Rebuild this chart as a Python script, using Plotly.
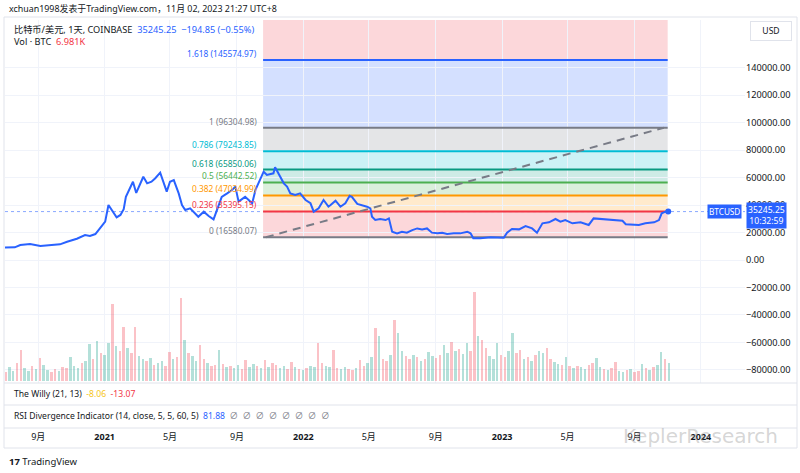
import plotly.graph_objects as go
import pandas as pd

# BTC/USD (COINBASE, 1D) close
price_dates = [
    "2020-06-26", "2020-07-05", "2020-07-20", "2020-07-30", "2020-08-17", "2020-09-05", "2020-09-28",
    "2020-10-11", "2020-10-24", "2020-11-11", "2020-11-26", "2020-12-05", "2020-12-15", "2020-12-24",
    "2021-01-02", "2021-01-08", "2021-01-14", "2021-01-23", "2021-01-30", "2021-02-05", "2021-02-09",
    "2021-02-22", "2021-02-28", "2021-03-13", "2021-03-20", "2021-03-28", "2021-04-04", "2021-04-13",
    "2021-04-25", "2021-05-01", "2021-05-08", "2021-05-17", "2021-05-23", "2021-05-29", "2021-06-07",
    "2021-06-16", "2021-06-22", "2021-07-02", "2021-07-11", "2021-07-20", "2021-07-26", "2021-08-04",
    "2021-08-14", "2021-08-23", "2021-08-29", "2021-09-04", "2021-09-16", "2021-09-29", "2021-10-05",
    "2021-10-14", "2021-10-20", "2021-10-26", "2021-11-07", "2021-11-10", "2021-11-20", "2021-11-26",
    "2021-12-02", "2021-12-08", "2021-12-17", "2021-12-26", "2022-01-05", "2022-01-14", "2022-01-20",
    "2022-01-29", "2022-02-07", "2022-02-16", "2022-02-20", "2022-03-01", "2022-03-10", "2022-03-19",
    "2022-03-27", "2022-03-31", "2022-04-10", "2022-04-19", "2022-04-28", "2022-05-04", "2022-05-07",
    "2022-05-13", "2022-05-22", "2022-06-01", "2022-06-07", "2022-06-13", "2022-06-22", "2022-07-01",
    "2022-07-10", "2022-07-20", "2022-07-29", "2022-08-07", "2022-08-16", "2022-08-25", "2022-09-04",
    "2022-09-13", "2022-09-22", "2022-10-04", "2022-10-16", "2022-10-29", "2022-11-04", "2022-11-09",
    "2022-11-22", "2022-12-11", "2022-12-26", "2023-01-04", "2023-01-10", "2023-01-19", "2023-02-01",
    "2023-02-13", "2023-02-25", "2023-03-06", "2023-03-16", "2023-03-28", "2023-04-09", "2023-04-18",
    "2023-04-27", "2023-05-10", "2023-05-25", "2023-06-09", "2023-06-18", "2023-07-04", "2023-07-22",
    "2023-08-10", "2023-08-16", "2023-08-28", "2023-09-09", "2023-09-21", "2023-10-07", "2023-10-16",
    "2023-10-21", "2023-10-28", "2023-11-02",
]
price_values = [
    9000, 9050, 9250, 10900, 11650, 10200, 10700,
    11400, 13300, 15500, 18200, 17500, 18900, 23000,
    27900, 40000, 36400, 31000, 32800, 37000, 46000,
    57000, 48800, 60600, 55800, 57000, 59500, 63600,
    49800, 57000, 58200, 48500, 40000, 36400, 37600,
    34000, 31500, 35200, 32000, 29600, 36400, 46000,
    48500, 51000, 53400, 42500, 46000, 41300, 51000,
    59500, 64300, 61900, 63100, 67500, 59500, 55800,
    53400, 48500, 47300, 48500, 43700, 41300, 35200,
    37600, 43700, 38800, 40000, 43200, 38800, 41300,
    46800, 46000, 40800, 40000, 38800, 37600, 31500,
    29100, 29850, 29100, 30300, 20600, 19400, 20600,
    19900, 21800, 23000, 22300, 23000, 19900, 19400,
    19900, 18900, 19400, 19400, 20600, 19400, 15800,
    15800, 16500, 16200, 16200, 19900, 22600, 22300,
    24750, 23000, 19900, 26700, 27400, 29850, 27900,
    29100, 26700, 27400, 25500, 30300, 29850, 29100,
    28600, 26000, 26000, 25500, 26700, 27400, 29100,
    34000, 35200, 35245.25,
]
last_price = 35245.25

# volume (K BTC), one bar per week starting vol_start; u = up week, d = down week
vol_start = "2020-06-26"
volume_k = [
    12, 9, 14, 10, 18, 31, 13, 10, 15, 12,
    23, 16, 11, 9, 12, 10, 14, 13, 24, 15,
    13, 18, 20, 37, 22, 40, 28, 26, 38, 77,
    35, 30, 54, 33, 28, 54, 25, 22, 20, 23,
    16, 18, 20, 15, 29, 22, 24, 83, 41, 28,
    25, 20, 36, 22, 18, 15, 16, 31, 17, 14,
    15, 13, 16, 12, 21, 14, 17, 15, 13, 21,
    14, 18, 16, 13, 15, 12, 19, 14, 12, 11,
    13, 15, 14, 38, 18, 15, 14, 31, 13, 12,
    14, 12, 11, 13, 21, 15, 18, 24, 53, 45,
    22, 20, 26, 61, 48, 30, 25, 22, 26, 24,
    20, 22, 29, 25, 23, 26, 36, 28, 39, 30,
    32, 27, 38, 30, 89, 45, 41, 33, 25, 22,
    38, 26, 24, 30, 48, 28, 31, 22, 24, 20,
    26, 30, 28, 33, 22, 19, 17, 16, 24, 15,
    13, 15, 14, 12, 16, 18, 23, 14, 12, 11,
    13, 19, 10, 9, 11, 12, 9, 10, 17, 13,
    11, 14, 16, 29, 22, 18,
]
vol_dir = ("uduudduudu" "duuddudduu" "uduududuud" "uddudduudu" "duudduddud"
           "uudduddudu" "duudduudud" "udduuddudu" "duudduuddu" "uddudduudu"
           "dduduuddud" "uduudduudu" "duuddudduu" "udduuddudu" "duudduudud"
           "uduudduudu" "dduududdud" "uduudu")

# fib retracement levels
fib_ratios = ["0", "0.236", "0.382", "0.5", "0.618", "0.786", "1", "1.618", "2.618"]
fib_values = [16580.07, 35395.15, 47034.99, 56442.52, 65850.06, 79243.85, 96304.98, 145574.97, 225299.86]
fib_colors = ["#787b86", "#f23645", "#ff9800", "#4caf50", "#089981", "#00bcd4", "#787b86", "#2962ff", "#f23645"]
fib_start, fib_end = "2021-10-19", "2023-11-01"
trend_x = ["2021-10-24", "2023-10-25"]
trend_y = [16580.07, 96304.98]

x_ticks = ["2020-09-01", "2021-01-01", "2021-05-01", "2021-09-01", "2022-01-01", "2022-05-01",
           "2022-09-01", "2023-01-01", "2023-05-01", "2023-09-01", "2024-01-01"]
x_ticktext = ["9月", "<b>2021</b>", "5月", "9月", "<b>2022</b>", "5月",
              "9月", "<b>2023</b>", "5月", "9月", "<b>2024</b>"]
y_ticks = [-80000, -60000, -40000, -20000, 0, 20000, 40000, 60000, 80000, 100000, 120000, 140000]

FONT = "Noto Sans, Noto Sans CJK SC, sans-serif"
TXT = "#131722"
BLUE = "#2962ff"
RED = "#f23645"

# plot area in pixels (800x473 page)
L, R, T, B = 5, 745, 20, 383


def px(x):
    return (x - L) / (R - L)


def py(y):
    return (B - y) / (B - T)


def rgba(hex_color, a):
    h = hex_color.lstrip("#")
    return "rgba(%d,%d,%d,%s)" % (int(h[0:2], 16), int(h[2:4], 16), int(h[4:6], 16), a)


fig = go.Figure()

# volume
vol_dates = pd.date_range(vol_start, periods=len(volume_k), freq="7D")
fig.add_trace(go.Bar(
    x=vol_dates, y=volume_k, yaxis="y2",
    marker=dict(color=[rgba("#089981", 0.3) if d == "u" else rgba(RED, 0.3) for d in vol_dir],
                line=dict(width=0)),
    width=4.5 * 86400000,
))

# price
fig.add_trace(go.Scatter(
    x=price_dates, y=price_values, mode="lines",
    line=dict(color=BLUE, width=2),
))
fig.add_trace(go.Scatter(
    x=[price_dates[-1]], y=[price_values[-1]], mode="markers",
    marker=dict(color=BLUE, size=6),
))

# fib zones + lines + labels
for i in range(1, len(fib_values)):
    fig.add_shape(type="rect", xref="x", yref="y", x0=fib_start, x1=fib_end,
                  y0=fib_values[i - 1], y1=fib_values[i],
                  fillcolor=rgba(fib_colors[i], 0.2), line_width=0, layer="below")
for r, v, c in zip(fib_ratios[:-1], fib_values[:-1], fib_colors[:-1]):
    fig.add_shape(type="line", xref="x", yref="y", x0=fib_start, x1=fib_end, y0=v, y1=v,
                  line=dict(color=c, width=2), layer="between")
    fig.add_annotation(x=fib_start, y=v, xref="x", yref="y", text="%s (%.2f)" % (r, v),
                       showarrow=False, xanchor="right", yanchor="bottom", xshift=-4, yshift=-1,
                       font=dict(size=8.4, color=c, family=FONT))

# trend line
fig.add_shape(type="line", xref="x", yref="y", x0=trend_x[0], x1=trend_x[1], y0=trend_y[0], y1=trend_y[1],
              line=dict(color="#787b86", width=2, dash="8px,6px"), layer="between")

# last price dotted line
fig.add_shape(type="line", xref="paper", yref="y", x0=0, x1=1, y0=last_price, y1=last_price,
              line=dict(color="rgba(41,98,255,0.55)", width=1, dash="dot"), layer="between")

# frame and pane separators
frame = dict(color="#e0e3eb", width=1)
fig.add_shape(type="rect", xref="paper", yref="paper", x0=px(4), x1=px(797), y0=py(17), y1=py(448), line=frame)
for yy in (405, 428):
    fig.add_shape(type="line", xref="paper", yref="paper", x0=px(4), x1=px(797), y0=py(yy), y1=py(yy), line=frame)
fig.add_shape(type="line", xref="paper", yref="paper", x0=px(4), x1=px(797), y0=0, y1=0, line=frame)

ann = []
ann.append(dict(x=px(7), y=py(8), text="xchuan1998发表于TradingView.com，11月 02, 2023 21:27 UTC+8",
                font=dict(size=8.9, color=TXT)))
ann.append(dict(x=px(12), y=py(30),
                text="比特币/美元, 1天, COINBASE  <span style='color:%s'>35245.25  −194.85 (−0.55%%)</span>" % BLUE,
                font=dict(size=9.2, color=TXT)))
ann.append(dict(x=px(12), y=py(42), text="Vol · BTC  <span style='color:%s'>6.981K</span>" % RED,
                font=dict(size=9.2, color=TXT)))
ann.append(dict(x=px(12), y=py(394),
                text="The Willy (21, 13)  <span style='color:#f5c518'>-8.06</span>  <span style='color:%s'>-13.07</span>" % RED,
                font=dict(size=8.6, color=TXT)))
ann.append(dict(x=px(12), y=py(416),
                text="RSI Divergence Indicator (14, close, 5, 5, 60, 5)  <span style='color:%s'>81.88</span>  "
                     "<span style='color:#787b86'>∅  ∅  ∅  ∅  ∅  ∅  ∅  ∅</span>" % BLUE,
                font=dict(size=8.6, color=TXT)))
ann.append(dict(x=px(7), y=py(461), text="<b>17</b> TradingView", font=dict(size=9.5, color=TXT)))
for a in ann:
    fig.add_annotation(xref="paper", yref="paper", showarrow=False, xanchor="left", yanchor="middle",
                       font_family=FONT, **a)

# watermark
fig.add_annotation(xref="paper", yref="paper", x=px(700), y=py(436), text="KeplerResearch",
                   showarrow=False, xanchor="center", yanchor="middle",
                   font=dict(size=20, color="rgba(150,150,150,0.4)", family="DejaVu Sans"))

# right scale boxes
fig.add_annotation(xref="paper", yref="paper", x=px(771), y=py(31), text="USD", showarrow=False,
                   xanchor="center", yanchor="middle",
                   bgcolor="white", bordercolor="#e0e3eb", borderwidth=1, borderpad=3, width=34,
                   font=dict(size=8.6, color=TXT, family=FONT))
fig.add_annotation(xref="paper", yref="y", x=1, y=last_price, text="35245.25<br>10:32:59", showarrow=False,
                   xanchor="left", yanchor="middle", xshift=1, yshift=-4, bgcolor=BLUE, borderpad=1,
                   font=dict(size=8.6, color="white", family=FONT))
fig.add_annotation(xref="paper", yref="y", x=1, y=last_price, text="BTCUSD", showarrow=False,
                   xanchor="right", yanchor="middle", xshift=-3, bgcolor=BLUE, borderpad=1,
                   font=dict(size=8.2, color="white", family=FONT))

fig.update_layout(
    width=800, height=473,
    margin=dict(l=L, r=800 - R, t=T, b=473 - B),
    paper_bgcolor="white", plot_bgcolor="white",
    showlegend=False, bargap=0,
    font=dict(family=FONT, size=9, color=TXT),
    xaxis=dict(type="date", range=["2020-07-02", "2024-03-22"], tickvals=x_ticks, ticktext=x_ticktext,
               showgrid=True, gridcolor="#f0f3fa", zeroline=False, ticks="", showline=False,
               ticklabelstandoff=47, tickfont=dict(size=9, color=TXT)),
    yaxis=dict(side="right", range=[-89545, 174724], tickvals=y_ticks, tickformat=".2f",
               showgrid=True, gridcolor="#f0f3fa", zeroline=False, ticks="",
               tickfont=dict(size=9.2, color=TXT)),
    yaxis2=dict(overlaying="y", range=[-2, 361], visible=False),
)

# drop the default 8px body margin so the figure sits at the page origin
fig.write_html("out.html", config={"displayModeBar": False},
               post_script="document.body.style.margin='0';")
